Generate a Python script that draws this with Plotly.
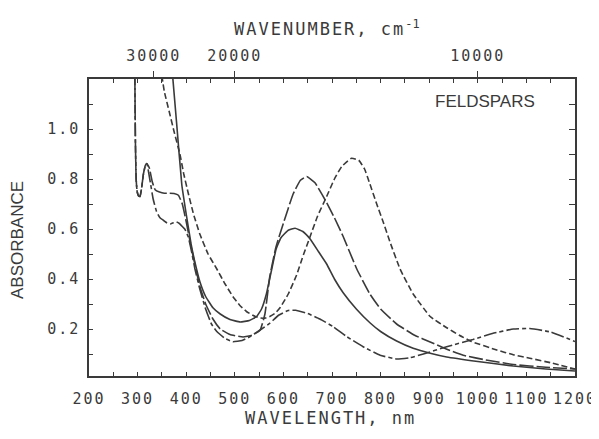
import plotly.graph_objects as go

# ---------------- data ----------------
solid_nm = [370, 380, 391, 400, 410, 420, 428, 440, 455, 470, 490, 511, 530, 545, 555, 565, 575, 585, 595, 610,
            624, 640, 655, 672, 689, 705, 723, 750, 778, 800, 833, 867, 902, 936, 1000, 1073, 1140, 1200]
solid_abs = [1.26, 1.03, 0.776, 0.66, 0.54, 0.45, 0.39, 0.33, 0.285, 0.26, 0.238, 0.228, 0.234, 0.25, 0.28, 0.34,
             0.43, 0.52, 0.565, 0.595, 0.603, 0.59, 0.56, 0.51, 0.46, 0.40, 0.345, 0.28, 0.225, 0.19, 0.152, 0.123,
             0.103, 0.088, 0.07, 0.052, 0.04, 0.032]

longdash_nm = [294, 295.5, 297, 299, 302, 305, 308, 312, 316, 319, 324, 330, 336, 345, 355, 365, 375, 384, 392,
               400, 410, 420, 428, 440, 455, 470, 490, 517, 535, 552, 562, 572, 585, 600, 620, 635, 648, 665, 686,
               705, 723, 751, 778, 800, 833, 870, 902, 935, 970, 1020, 1073, 1140, 1200]
longdash_abs = [1.3, 0.95, 0.8, 0.75, 0.732, 0.73, 0.76, 0.82, 0.855, 0.862, 0.845, 0.79, 0.757, 0.748, 0.743, 0.743,
                0.742, 0.735, 0.70, 0.63, 0.53, 0.44, 0.37, 0.30, 0.24, 0.2, 0.178, 0.168, 0.175, 0.195, 0.26, 0.41,
                0.53, 0.623, 0.74, 0.795, 0.81, 0.785, 0.716, 0.645, 0.57, 0.44, 0.34, 0.28, 0.22, 0.175, 0.148, 0.12,
                0.095, 0.075, 0.058, 0.047, 0.04]

dashdot_nm = [294, 295.5, 297, 299, 302, 305, 308, 312, 316, 319, 325, 332, 339, 346, 353, 360, 367, 374, 380, 386,
              391, 397, 404, 410, 418, 428, 440, 452, 463, 480, 496, 515, 531, 555, 572, 590, 610, 625, 650, 675, 702,
              730, 764, 799, 833, 860, 888, 936, 990, 1030, 1073, 1107, 1150, 1200]
dashdot_abs = [1.3, 0.95, 0.8, 0.75, 0.732, 0.73, 0.76, 0.82, 0.855, 0.862, 0.80, 0.72, 0.67, 0.645, 0.635, 0.625,
               0.62, 0.625, 0.628, 0.622, 0.612, 0.60, 0.57, 0.52, 0.44, 0.36, 0.28, 0.22, 0.19, 0.162, 0.149, 0.154,
               0.169, 0.2, 0.223, 0.255, 0.274, 0.275, 0.262, 0.24, 0.21, 0.17, 0.129, 0.095, 0.08, 0.085, 0.1, 0.129,
               0.158, 0.182, 0.2, 0.202, 0.188, 0.15]

shortdash_nm = [347, 355, 365, 375, 387, 395, 404, 415, 428, 445, 463, 480, 496, 510, 524, 537, 550, 562, 572, 583,
                593, 610, 627, 640, 655, 670, 689, 705, 720, 740, 755, 767, 778, 792, 805, 819, 840, 867, 902, 936,
                962, 987, 1039, 1073, 1107, 1150, 1200]
shortdash_abs = [1.25, 1.15, 1.07, 0.99, 0.9, 0.82, 0.745, 0.66, 0.58, 0.5, 0.44, 0.38, 0.33, 0.295, 0.27, 0.255,
                 0.245, 0.243, 0.25, 0.263, 0.285, 0.34, 0.415, 0.49, 0.57, 0.65, 0.73, 0.80, 0.85, 0.883, 0.875, 0.84,
                 0.78, 0.70, 0.63, 0.55, 0.44, 0.34, 0.25, 0.205, 0.175, 0.15, 0.116, 0.097, 0.083, 0.065, 0.04]

wavelength_ticks = [200, 300, 400, 500, 600, 700, 800, 900, 1000, 1100, 1200]
wavenumber_labels = ["30000", "20000", "10000"]
wavenumber_values = [30000, 20000, 10000]
absorbance_ticks = [0.2, 0.4, 0.6, 0.8, 1.0]

# ---------------- figure ----------------
INK = "#3a3a3a"
MONO = "DejaVu Sans Mono"
SANS = "Liberation Sans"


def spaced(s):
    return "<span style='letter-spacing:2px'>" + s + "</span>"


fig = go.Figure()
series = [
    (solid_nm, solid_abs, "solid"),
    (longdash_nm, longdash_abs, "14px,3px"),
    (dashdot_nm, dashdot_abs, "13px,3px,4px,3px"),
    (shortdash_nm, shortdash_abs, "6px,3px"),
]
for xs, ys, dash in series:
    fig.add_trace(go.Scatter(x=xs, y=ys, mode="lines",
                             line=dict(color=INK, width=1.6, dash=dash, shape="spline", smoothing=0.35),
                             showlegend=False, hoverinfo="skip"))

# invisible trace for the secondary axes
fig.add_trace(go.Scatter(x=[None], y=[None], xaxis="x2", yaxis="y2", showlegend=False, hoverinfo="skip"))

x_range = [200, 1200]
y_range = [0.012, 1.2]

minor_nm = [v for v in range(250, 1200, 50)]

# the page body adds an 8px offset, so the figure is drawn 8px smaller with margins shifted
fig.update_layout(
    width=591, height=431,
    margin=dict(l=81, r=24, t=71, b=63),
    paper_bgcolor="white", plot_bgcolor="white",
    xaxis=dict(range=x_range, tickmode="array", tickvals=wavelength_ticks,
               ticktext=[spaced(str(v)) for v in wavelength_ticks], automargin=False,
               ticks="inside", ticklen=4, tickwidth=1, tickcolor=INK,
               minor=dict(tickmode="array", tickvals=minor_nm, ticks="inside", ticklen=4, tickcolor=INK),
               showline=True, linecolor=INK, linewidth=1.5, showgrid=False, zeroline=False,
               tickfont=dict(family=MONO, size=15, color=INK), ticklabelstandoff=8),
    xaxis2=dict(range=x_range, overlaying="x", side="top", tickmode="array", automargin=False,
                tickvals=[1e7 / w for w in wavenumber_values],
                ticktext=[spaced(s) for s in wavenumber_labels],
                ticks="outside", ticklen=6, tickwidth=1, tickcolor=INK,
                minor=dict(tickmode="array", tickvals=minor_nm, ticks="inside", ticklen=4, tickcolor=INK),
                showline=True, linecolor=INK, linewidth=1.5, showgrid=False, zeroline=False,
                tickfont=dict(family=MONO, size=15, color=INK), ticklabelstandoff=4),
    yaxis=dict(range=y_range, tickmode="array", tickvals=absorbance_ticks, automargin=False,
               ticktext=[spaced(f"{v:.1f}") for v in absorbance_ticks],
               ticks="inside", ticklen=4, tickwidth=1, tickcolor=INK,
               minor=dict(tickmode="array", tickvals=[0.1, 0.3, 0.5, 0.7, 0.9, 1.1], ticks="inside", ticklen=4,
                          tickcolor=INK),
               showline=True, linecolor=INK, linewidth=1.5, showgrid=False, zeroline=False,
               tickfont=dict(family=MONO, size=15, color=INK), ticklabelstandoff=4),
    yaxis2=dict(range=y_range, overlaying="y", side="right", tickmode="array", automargin=False,
                tickvals=[0.1, 0.2, 0.3, 0.4, 0.5, 0.6, 0.7, 0.8, 0.9, 1.0, 1.1],
                showticklabels=False, ticks="inside", ticklen=6, tickwidth=1, tickcolor=INK,
                showline=True, linecolor=INK, linewidth=1.5, showgrid=False, zeroline=False),
    annotations=[
        dict(text=spaced("WAVELENGTH, nm"), xref="paper", yref="paper", x=0.496, y=-0.141,
             xanchor="center", yanchor="middle", showarrow=False, font=dict(family=MONO, size=17, color=INK)),
        dict(text=spaced("WAVENUMBER, cm") + "<sup>-1</sup>", xref="paper", yref="paper", x=0.49, y=1.172,
             xanchor="center", yanchor="middle", showarrow=False, font=dict(family=MONO, size=17, color=INK)),
        dict(text="ABSORBANCE", xref="paper", yref="paper", x=-0.146, y=0.458, textangle=-90,
             xanchor="center", yanchor="middle", showarrow=False, font=dict(family=SANS, size=17, color=INK)),
        dict(text="FELDSPARS", xref="paper", yref="paper", x=0.815, y=0.9226,
             xanchor="center", yanchor="middle", showarrow=False, font=dict(family=SANS, size=17, color=INK)),
    ],
)

fig.write_html("out.html")
